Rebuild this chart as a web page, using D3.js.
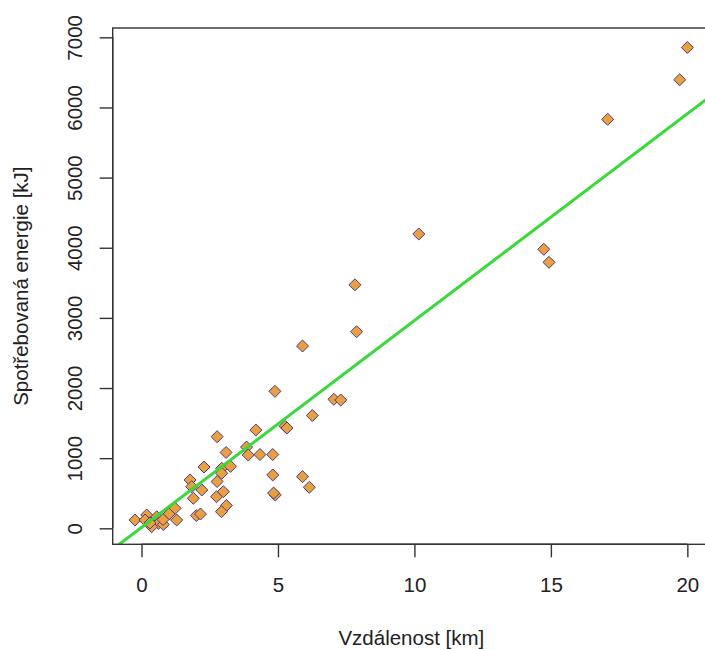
<!DOCTYPE html>
<html>
<head>
<meta charset="utf-8">
<script src="https://cdn.jsdelivr.net/npm/d3@7"></script>
<style>
  html, body { margin: 0; padding: 0; background: #fff; }
  svg { display: block; }
  text { font-family: "Liberation Sans", Arial, Helvetica, sans-serif; fill: #222; }
</style>
</head>
<body>
<script>
// Distance travelled [km]
const distanceKm = [
  20.0, 19.72, 17.08, 10.16, 14.74, 14.93, 7.82, 7.88, 5.90, 4.89,
  7.05, 7.30, 6.26, 5.26, 5.33, 4.19, 2.77, 3.10, 3.85, 3.91,
  4.34, 4.81, 2.29, 2.94, 3.26, 2.94, 4.81, 5.90, 6.15, 4.90,
  4.84, 2.77, 2.75, 3.00, 3.11, 2.93, 2.01, 2.16, 1.78, 1.84,
  2.21, 1.90, 1.23, 1.29, 1.01, -0.24, 0.19, 0.13, 0.56, 0.62,
  0.37, 0.80, 0.79, 0.31
];
// Energy consumed [kJ]
const energyKJ = [
  6855, 6395, 5831, 4196, 3978, 3792, 3471, 2803, 2599, 1953,
  1839, 1829, 1608, 1454, 1430, 1401, 1306, 1081, 1159, 1045,
  1052, 1052, 874, 855, 884, 784, 760, 736, 585, 475,
  503, 667, 451, 522, 325, 237, 182, 204, 689, 593,
  546, 428, 285, 118, 204, 118, 190, 118, 165, 71,
  23, 54, 125, 75
];
// Fitted linear model: energy = intercept + slope * distance
const fitIntercept = 12;
const fitSlope = 295;

const xTicks = [0, 5, 10, 15, 20];
const yTicks = [0, 1000, 2000, 3000, 4000, 5000, 6000, 7000];
const xLimits = [-1.055, 20.83];
const yLimits = [-228, 7133];

const W = 705, H = 650;
const plot = { left: 112.7, right: 710, top: 28, bottom: 544.3 };

const svg = d3.select("body").append("svg")
  .attr("width", W).attr("height", H);

const x = d3.scaleLinear().domain(xLimits).range([plot.left, plot.right]);
const y = d3.scaleLinear().domain(yLimits).range([plot.bottom, plot.top]);

const fontSize = "20.5px";

svg.append("defs").append("clipPath").attr("id", "plotClip")
  .append("rect")
  .attr("x", plot.left).attr("y", plot.top)
  .attr("width", plot.right - plot.left).attr("height", plot.bottom - plot.top);

// Points: filled diamonds
const pts = d3.range(distanceKm.length).map(i => ({ x: distanceKm[i], y: energyKJ[i] }));
const diamond = d3.symbol().type(d3.symbolDiamond2).size(92);
const gPts = svg.append("g").attr("clip-path", "url(#plotClip)");
gPts.selectAll("path.pt").data(pts).enter().append("path")
  .attr("class", "pt")
  .attr("d", diamond)
  .attr("transform", d => `translate(${x(d.x)},${y(d.y)})`)
  .attr("fill", "#EBA03C")
  .attr("stroke", "#4f3a8a")
  .attr("stroke-width", 1);

// Regression line across the full plotting region
const lineGen = d3.line().x(d => x(d)).y(d => y(fitIntercept + fitSlope * d));
svg.append("path")
  .attr("clip-path", "url(#plotClip)")
  .attr("d", lineGen(xLimits))
  .attr("fill", "none")
  .attr("stroke", "#38da38")
  .attr("stroke-width", 3);

// Plot box
svg.append("rect")
  .attr("x", plot.left).attr("y", plot.top)
  .attr("width", plot.right - plot.left).attr("height", plot.bottom - plot.top)
  .attr("fill", "none").attr("stroke", "#333").attr("stroke-width", 1.4);

// Bottom axis
const xAxis = d3.axisBottom(x).tickValues(xTicks).tickSize(13).tickPadding(0).tickFormat(d3.format("d"));
const gx = svg.append("g").attr("transform", `translate(0,${plot.bottom})`).call(xAxis);
gx.select(".domain")
  .attr("d", `M${x(xTicks[0])},0H${x(xTicks[xTicks.length - 1])}`)
  .attr("stroke", "#333").attr("stroke-width", 1.4);
gx.selectAll(".tick line").attr("stroke", "#333").attr("stroke-width", 1.4);
gx.selectAll(".tick text")
  .attr("y", 592 - plot.bottom).attr("dy", null)
  .attr("font-size", fontSize).attr("font-family", null).attr("fill", "#222");

// Left axis with rotated labels
const yAxis = d3.axisLeft(y).tickValues(yTicks).tickSize(13).tickFormat(d3.format("d"));
const gy = svg.append("g").attr("transform", `translate(${plot.left},0)`).call(yAxis);
gy.select(".domain")
  .attr("d", `M0,${y(yTicks[0])}V${y(yTicks[yTicks.length - 1])}`)
  .attr("stroke", "#333").attr("stroke-width", 1.4);
gy.selectAll(".tick line").attr("stroke", "#333").attr("stroke-width", 1.4);
gy.selectAll(".tick text")
  .attr("x", null).attr("dy", null)
  .attr("transform", `translate(${82 - plot.left},0) rotate(-90)`)
  .attr("text-anchor", "middle")
  .attr("font-size", fontSize).attr("font-family", null).attr("fill", "#222");

// Axis titles
svg.append("text")
  .attr("x", (plot.left + plot.right) / 2)
  .attr("y", 645)
  .attr("text-anchor", "middle")
  .attr("font-size", fontSize)
  .text("Vzdálenost [km]");

svg.append("text")
  .attr("transform", `translate(28,${(plot.top + plot.bottom) / 2}) rotate(-90)`)
  .attr("text-anchor", "middle")
  .attr("font-size", fontSize)
  .text("Spotřebovaná energie [kJ]");
</script>
</body>
</html>
